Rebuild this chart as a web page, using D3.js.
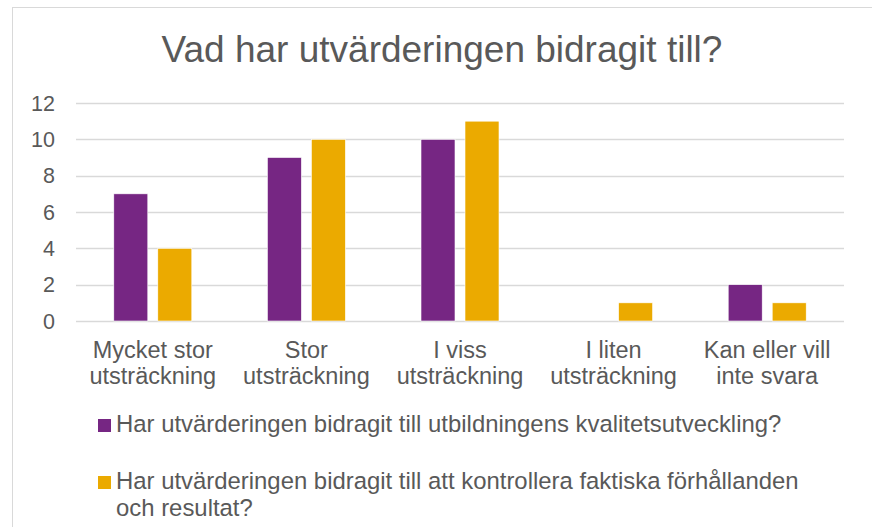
<!DOCTYPE html>
<html>
<head>
<meta charset="utf-8">
<script src="https://cdn.jsdelivr.net/npm/d3@7"></script>
<style>
  body { margin: 0; background: #fff; }
  svg text { font-family: "Liberation Sans", Arial, sans-serif; fill: #595959; }
</style>
</head>
<body>
<svg id="chart" width="872" height="527"></svg>
<script>
// data
var categories = [
  ["Mycket stor", "utsträckning"],
  ["Stor", "utsträckning"],
  ["I viss", "utsträckning"],
  ["I liten", "utsträckning"],
  ["Kan eller vill", "inte svara"]
];
var seriesNames = [
  ["Har utvärderingen bidragit till utbildningens kvalitetsutveckling?"],
  ["Har utvärderingen bidragit till att kontrollera faktiska förhållanden", "och resultat?"]
];
var kvalitet = [7, 9, 10, 0, 2];
var kontroll = [4, 10, 11, 1, 1];
var yTicks = [0, 2, 4, 6, 8, 10, 12];
var colors = ["#762683", "#EBAA00"];

var svg = d3.select("#chart");

// chart frame
svg.append("rect")
  .attr("x", 12.5).attr("y", 7.5)
  .attr("width", 900).attr("height", 600)
  .attr("fill", "#fff").attr("stroke", "#d9d9d9");

// title
svg.append("text")
  .attr("x", 442).attr("y", 62)
  .attr("text-anchor", "middle")
  .attr("font-size", "37px")
  .text("Vad har utvärderingen bidragit till?");

// scales
var x = d3.scaleBand().domain(d3.range(categories.length)).range([76, 844]);
var y = d3.scaleLinear().domain([0, 12]).range([321, 103]);
var barW = 34, gap = 10;

// gridlines + y labels
svg.append("g").selectAll("line")
  .data(yTicks).enter().append("line")
  .attr("x1", 76).attr("x2", 844)
  .attr("y1", function(d) { return Math.round(y(d)) + 0.5; })
  .attr("y2", function(d) { return Math.round(y(d)) + 0.5; })
  .attr("stroke", "#d9d9d9").attr("stroke-width", 1.3);

svg.append("g").selectAll("text")
  .data(yTicks).enter().append("text")
  .attr("x", 55)
  .attr("y", function(d) { return y(d) + 7.5; })
  .attr("text-anchor", "end")
  .attr("font-size", "21.5px")
  .text(function(d) { return d; });

// bars
[kvalitet, kontroll].forEach(function(vals, s) {
  svg.append("g").selectAll("rect")
    .data(vals).enter().append("rect")
    .attr("x", function(d, i) {
      var c = x(i) + x.bandwidth() / 2;
      return s == 0 ? c - gap / 2 - barW : c + gap / 2;
    })
    .attr("y", function(d) { return y(d); })
    .attr("width", barW)
    .attr("height", function(d) { return y(0) - y(d); })
    .attr("fill", colors[s])
    .attr("stroke", "#fff").attr("stroke-width", 0.6);
});

// category labels
var catG = svg.append("g").selectAll("text")
  .data(categories).enter().append("text")
  .attr("text-anchor", "middle")
  .attr("font-size", "23.5px");
catG.selectAll("tspan")
  .data(function(d, i) { return d.map(function(t) { return {t: t, i: i}; }); })
  .enter().append("tspan")
  .attr("x", function(d) { return x(d.i) + x.bandwidth() / 2; })
  .attr("y", function(d, j) { return 358 + j * 26; })
  .text(function(d) { return d.t; });

// legend
var legY = [432, 489];
seriesNames.forEach(function(lines, s) {
  svg.append("rect")
    .attr("x", 98).attr("y", legY[s] - 13)
    .attr("width", 13).attr("height", 13)
    .attr("fill", colors[s]);
  var t = svg.append("text").attr("font-size", "23.9px");
  lines.forEach(function(l, j) {
    t.append("tspan").attr("x", 116).attr("y", legY[s] + j * 27).text(l);
  });
});
</script>
</body>
</html>
